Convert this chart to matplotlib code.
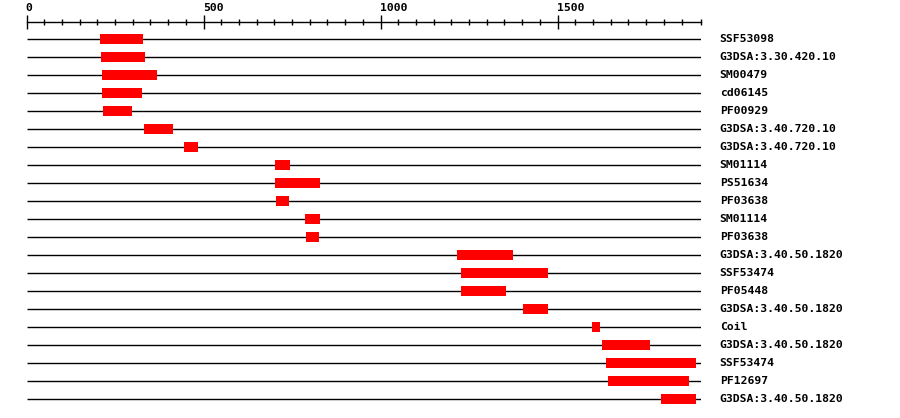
import matplotlib
matplotlib.use("Agg")
import matplotlib.pyplot as plt

seq_len = 1905

labels = ["SSF53098", "G3DSA:3.30.420.10", "SM00479", "cd06145", "PF00929",
          "G3DSA:3.40.720.10", "G3DSA:3.40.720.10", "SM01114", "PS51634", "PF03638",
          "SM01114", "PF03638", "G3DSA:3.40.50.1820", "SSF53474", "PF05448",
          "G3DSA:3.40.50.1820", "Coil", "G3DSA:3.40.50.1820", "SSF53474", "PF12697",
          "G3DSA:3.40.50.1820"]
starts = [208, 211, 213, 213, 216, 332, 445, 703, 703, 706,
          787, 790, 1217, 1226, 1226, 1401, 1596, 1624, 1636, 1641, 1791]
ends = [329, 335, 369, 326, 298, 414, 485, 745, 830, 742,
        830, 827, 1373, 1472, 1353, 1474, 1619, 1760, 1890, 1870, 1890]

major_ticks = [0, 500, 1000, 1500]
minor_ticks = [t for t in range(50, 1900, 50) if t % 500 != 0] + [seq_len]

W, H = 900, 418
fig = plt.figure(figsize=(W / 100, H / 100), dpi=100)
x0, x1 = 26.5, 701
top, bottom = 22, 418
ax = fig.add_axes([x0 / W, 1 - bottom / H, (x1 - x0) / W, (bottom - top) / H])
ax.set_xlim(0, seq_len)
ax.set_ylim((bottom - 39) / 18, -(39 - top) / 18)

rows = list(range(len(labels)))
ax.hlines(rows, 0, seq_len, color="black", lw=1.0)
ax.barh(rows, [e - s for s, e in zip(starts, ends)], left=starts,
        height=0.52, color="#ff0000", zorder=3)

mono = dict(family="DejaVu Sans Mono", weight="bold", size=8.2)
for r, lab in zip(rows, labels):
    ax.annotate(lab, xy=(seq_len, r), xytext=(13.5, 0), textcoords="offset points",
                va="center", ha="left", annotation_clip=False, **mono)

for sp in ["left", "right", "bottom"]:
    ax.spines[sp].set_visible(False)
ax.spines["top"].set_linewidth(1.0)
ax.set_yticks([])
ax.xaxis.set_ticks_position("top")
ax.set_xticks(major_ticks)
ax.set_xticks(minor_ticks, minor=True)
ax.set_xticklabels([])
ax.tick_params(axis="x", which="major", direction="inout", length=10, width=1.0)
ax.tick_params(axis="x", which="minor", direction="inout", length=4.3, width=1.0)
for t in major_ticks:
    ax.annotate(str(t), xy=(t, -(39 - top) / 18), xytext=(-0.5, 6.8),
                textcoords="offset points", ha="left", va="bottom",
                annotation_clip=False, **mono)

fig.savefig("out.png", dpi=100)
